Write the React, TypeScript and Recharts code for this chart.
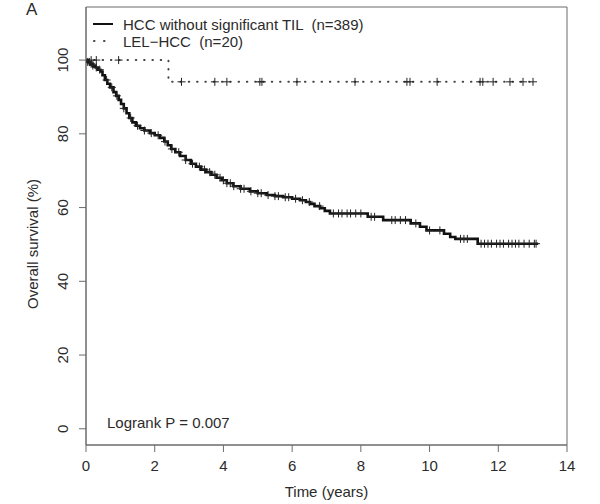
import React from "react"
import {
  ComposedChart,
  Line,
  Scatter,
  XAxis,
  YAxis,
  ReferenceArea,
  ReferenceDot,
  Legend,
} from "recharts"

const xTicks = [0, 2, 4, 6, 8, 10, 12, 14]
const yTicks = [0, 20, 40, 60, 80, 100]

// HCC without significant TIL (n=389), Kaplan-Meier steps
const hccTimes = [
  0, 0.05, 0.12, 0.2, 0.28, 0.35, 0.42, 0.48, 0.55, 0.62, 0.7, 0.8, 0.88, 0.95,
  1.02, 1.1, 1.18, 1.26, 1.35, 1.45, 1.57, 1.7, 1.86, 2.0, 2.15, 2.28, 2.38,
  2.48, 2.6, 2.74, 2.9, 3.05, 3.2, 3.35, 3.5, 3.65, 3.8, 3.95, 4.1, 4.29, 4.5,
  4.77, 5.0, 5.26, 5.5, 5.74, 6.0, 6.23, 6.4, 6.52, 6.65, 6.81, 6.95, 7.1, 8.2,
  8.65, 9.45, 9.72, 9.91, 10.42, 10.6, 10.75, 11.4, 13.16,
]
const hccSurvival = [
  100, 99.5, 99.0, 98.5, 98.0, 97.4, 96.9, 95.9, 94.6, 93.6, 92.6, 91.3, 90.3,
  89.2, 88.1, 86.9, 85.6, 84.3, 83.1, 82.2, 81.5, 80.9, 80.2, 79.6, 78.9, 77.9,
  76.9, 75.9, 75.0, 74.0, 72.9, 71.9, 71.1, 70.3, 69.6, 68.9, 68.1, 67.4, 66.6,
  65.8, 65.1, 64.4, 63.9, 63.4, 63.1, 62.8, 62.4, 62.0, 61.5, 61.0, 60.4, 59.8,
  59.1, 58.4, 57.5, 56.6, 55.7, 54.8, 53.8, 52.9, 52.0, 51.5, 50.2, 50.2,
]
const hccCensorTimes = [
  0.05, 0.1, 0.15, 0.2, 0.3, 0.4, 0.6, 0.75, 0.9, 1.1, 1.3, 1.5, 1.7, 1.9, 2.1,
  2.3, 2.5, 2.7, 2.9, 3.1, 3.3, 3.45, 3.6, 3.75, 3.9, 4.0, 4.1, 4.2, 4.3, 4.5,
  4.6, 4.8, 5.0, 5.1, 5.3, 5.5, 5.6, 5.8, 5.9, 6.1, 6.3, 6.5, 6.8, 7.2, 7.35,
  7.45, 7.6, 7.7, 7.85, 8.0, 8.3, 8.4, 8.9, 9.0, 9.15, 9.3, 9.6, 10.0, 10.3,
  10.9, 11.0, 11.1, 11.5, 11.6, 11.7, 11.8, 11.95, 12.05, 12.15, 12.3, 12.4,
  12.5, 12.6, 12.75, 12.9, 13.05, 13.1,
]

// LEL-HCC (n=20)
const lelTimes = [0, 2.4, 13.01]
const lelSurvival = [100, 94.1, 94.1]
const lelCensorTimes = [
  0.15, 0.3, 0.95, 2.78, 3.75, 4.1, 5.06, 5.12, 6.14, 7.83, 9.34, 9.43, 10.22,
  11.47, 11.55, 11.85, 12.34, 12.72, 13.01,
]

const survivalAt = (times: number[], surv: number[], t: number) => {
  let s = surv[0]
  times.forEach((tt, i) => {
    if (tt <= t) s = surv[i]
  })
  return s
}

const hccData = hccTimes.map((t, i) => ({ t, s: hccSurvival[i] }))
const lelData = lelTimes.map((t, i) => ({ t, s: lelSurvival[i] }))
const hccCensor = hccCensorTimes.map((t) => ({ t, s: survivalAt(hccTimes, hccSurvival, t) }))
const lelCensor = lelCensorTimes.map((t) => ({ t, s: survivalAt(lelTimes, lelSurvival, t) }))

const FONT = "'Liberation Sans', Arial, sans-serif"
const TEXT = "#2b2b2b"
const AXIS = "#6b6b6b"

const Plus = (props: any) => {
  const { cx, cy } = props
  return (
    <path
      d={`M${cx - 4},${cy}h8M${cx},${cy - 4}v8`}
      stroke="#222"
      strokeWidth={1}
      fill="none"
    />
  )
}

const YTick = (props: any) => {
  const { x, y, payload } = props
  const tx = x - 8
  return (
    <text
      x={tx}
      y={y}
      transform={`rotate(-90, ${tx}, ${y})`}
      textAnchor="middle"
      fill={TEXT}
      fontSize={15}
      fontFamily={FONT}
    >
      {payload.value}
    </text>
  )
}

const YTitle = (props: any) => {
  const { viewBox } = props
  const cx = viewBox.x + 38
  const cy = viewBox.y + viewBox.height / 2 + 18
  return (
    <text
      x={cx}
      y={cy}
      transform={`rotate(-90, ${cx}, ${cy})`}
      textAnchor="middle"
      fill={TEXT}
      fontSize={15}
      fontFamily={FONT}
    >
      Overall survival (%)
    </text>
  )
}

const LegendBox = () => (
  <svg width={320} height={44} style={{ overflow: "visible" }}>
    <line x1={7} y1={12} x2={27} y2={12} stroke="#111" strokeWidth={2} />
    <text x={37} y={17.5} fill={TEXT} fontSize={15} fontFamily={FONT} style={{ whiteSpace: "pre" }}>
      HCC without significant TIL  (n=389)
    </text>
    <line
      x1={8}
      y1={29}
      x2={28}
      y2={29}
      stroke="#444"
      strokeWidth={2}
      strokeLinecap="round"
      strokeDasharray="0.5 9.5"
    />
    <text x={37} y={34.5} fill={TEXT} fontSize={15} fontFamily={FONT} style={{ whiteSpace: "pre" }}>
      {"LEL\u2212HCC  (n=20)"}
    </text>
  </svg>
)

const App = () => {
  return (
    <div style={{ position: "absolute", left: 0, top: 0, width: 600, height: 504, background: "#fff", fontFamily: FONT }}>
      <svg width={60} height={24} style={{ position: "absolute", left: 0, top: 0 }}>
        <text x={26} y={15} fontSize={17} fill={TEXT} fontFamily={FONT}>
          A
        </text>
      </svg>
      <ComposedChart
        width={600}
        height={504}
        margin={{ top: 7, right: 33, bottom: 0, left: 0 }}
      >
        <XAxis
          dataKey="t"
          type="number"
          domain={[0, 14]}
          ticks={xTicks}
          interval={0}
          allowDataOverflow
          height={59}
          tickSize={7}
          tickMargin={8}
          axisLine={{ stroke: AXIS }}
          tickLine={{ stroke: AXIS }}
          tick={{ fill: TEXT, fontSize: 15, fontFamily: FONT }}
          label={{
            value: "Time (years)",
            position: "insideBottom",
            offset: 7,
            fill: TEXT,
            fontSize: 15,
            fontFamily: FONT,
          }}
        />
        <YAxis
          dataKey="s"
          type="number"
          domain={[-4.4, 114.4]}
          ticks={yTicks}
          interval={0}
          allowDataOverflow
          width={86}
          tickSize={7}
          tickMargin={3}
          axisLine={{ stroke: AXIS }}
          tickLine={{ stroke: AXIS }}
          tick={<YTick />}
          label={<YTitle />}
        />
        <ReferenceArea
          x1={0}
          x2={14}
          y1={-4.4}
          y2={114.4}
          fill="none"
          stroke={AXIS}
          strokeWidth={1}
        />
        <Legend
          layout="horizontal"
          verticalAlign="middle"
          align="center"
          wrapperStyle={{ left: 86, top: 12, width: 320, height: 44 }}
          content={() => <LegendBox />}
        />
        <Line
          data={lelData}
          dataKey="s"
          type="stepAfter"
          stroke="#444"
          strokeWidth={2}
          strokeLinecap="round"
          strokeDasharray="0.5 7.8"
          dot={false}
          activeDot={false}
          isAnimationActive={false}
          legendType="none"
        />
        <Line
          data={hccData}
          dataKey="s"
          type="stepAfter"
          stroke="#111"
          strokeWidth={2.6}
          dot={false}
          activeDot={false}
          isAnimationActive={false}
          legendType="none"
        />
        <Scatter data={lelCensor} dataKey="s" shape={<Plus />} isAnimationActive={false} legendType="none" />
        <Scatter data={hccCensor} dataKey="s" shape={<Plus />} isAnimationActive={false} legendType="none" />
        <ReferenceDot
          x={0.61}
          y={1.6}
          r={0}
          fill="none"
          stroke="none"
          label={{
            value: "Logrank P = 0.007",
            position: "right",
            offset: 0,
            fill: TEXT,
            fontSize: 15,
            fontFamily: FONT,
          }}
        />
      </ComposedChart>
    </div>
  )
}

export default App
